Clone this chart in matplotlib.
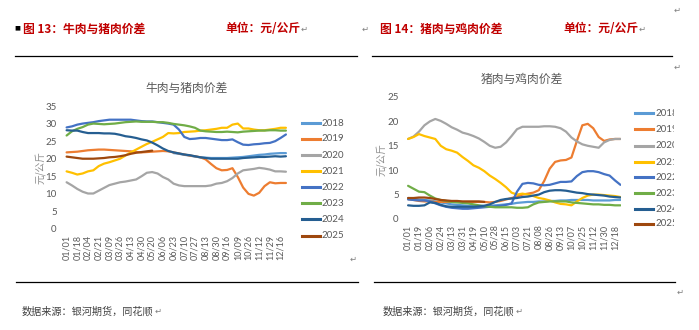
import matplotlib
matplotlib.use("Agg")
import matplotlib.pyplot as plt
from matplotlib.lines import Line2D
from matplotlib.text import Annotation
from matplotlib.transforms import Bbox
import numpy as np

W, H = 699, 330
CJK = ['Noto Sans CJK SC', 'DejaVu Sans']
NUM = ['Lato', 'Noto Sans CJK SC', 'DejaVu Sans']
plt.rcParams['font.family'] = CJK

years = ["2018", "2019", "2020", "2021", "2022", "2023", "2024", "2025"]
year_colors = ["#5B9BD5", "#ED7D31", "#A5A5A5", "#FFC000",
               "#4472C4", "#70AD47", "#255E91", "#9E480E"]

# ---- 牛肉与猪肉价差 (sampled every half tick interval) ----
beef_ticks = ["01/01", "01/18", "02/04", "02/21", "03/09", "03/26", "04/13",
              "04/30", "05/20", "06/06", "06/23", "07/10", "07/27", "08/13",
              "08/30", "09/16", "10/09", "10/26", "11/12", "11/29", "12/16"]
beef_2018 = [21.6, 21.4, 21.1, 20.9, 20.6, 20.4, 20.3, 20.2, 20.2, 20.2, 20.2,
             20.3, 20.4, 20.5, 20.7, 20.9, 21.1, 21.2, 21.4, 21.5, 21.6, 21.6]
beef_2018_start = 10
beef_2019 = [21.8, 21.9, 22.0, 22.2, 22.4, 22.5, 22.6, 22.6, 22.5, 22.4, 22.3,
             22.2, 22.1, 21.9, 21.8, 21.9, 22.0, 22.1, 22.2, 22.1, 21.8, 21.5,
             21.2, 20.9, 20.7, 20.4, 19.8, 18.5, 17.3, 16.7, 16.8, 17.3, 14.8,
             11.8, 10.0, 9.5, 10.3, 12.2, 13.3, 13.0, 13.1, 13.1]
beef_2020 = [13.3, 12.4, 11.4, 10.6, 10.1, 10.1, 10.9, 11.7, 12.5, 12.9, 13.3,
             13.5, 13.8, 14.1, 15.0, 16.0, 16.2, 15.8, 14.8, 14.1, 12.9, 12.4,
             12.2, 12.2, 12.2, 12.2, 12.2, 12.4, 12.9, 13.1, 13.6, 14.5, 15.8,
             16.7, 16.9, 17.1, 17.4, 17.2, 16.9, 16.4, 16.4, 16.3]
beef_2021 = [16.4, 16.0, 15.5, 15.8, 16.4, 16.7, 17.9, 18.6, 19.0, 19.5, 20.0,
             20.9, 21.8, 22.6, 23.4, 24.2, 24.8, 25.5, 26.2, 27.3, 27.2, 27.3,
             27.6, 27.7, 27.8, 28.0, 28.1, 28.3, 28.5, 28.8, 28.8, 29.7, 30.0,
             28.6, 28.6, 28.3, 28.1, 28.1, 28.3, 28.5, 28.8, 28.8]
beef_2022 = [28.9, 29.2, 29.7, 30.0, 30.2, 30.4, 30.7, 30.9, 31.1, 31.1, 31.1,
             31.1, 31.1, 30.9, 30.7, 30.6, 30.6, 30.4, 30.2, 30.0, 29.7, 28.3,
             26.2, 25.6, 25.7, 25.9, 25.9, 25.7, 25.5, 25.3, 25.3, 25.5, 24.7,
             24.0, 23.9, 24.1, 24.2, 24.4, 24.5, 25.0, 25.9, 26.9]
beef_2023 = [26.6, 27.8, 28.5, 29.0, 29.7, 30.0, 29.9, 29.8, 29.9, 30.0, 30.2,
             30.4, 30.5, 30.6, 30.5, 30.5, 30.5, 30.4, 30.4, 30.2, 29.9, 29.7,
             29.5, 29.2, 28.8, 28.0, 27.8, 27.7, 27.6, 27.6, 27.7, 27.6, 27.5,
             27.7, 27.8, 27.9, 28.0, 28.0, 28.1, 28.1, 28.0, 28.0]
beef_2024 = [28.1, 28.0, 28.0, 27.6, 27.3, 27.3, 27.3, 27.2, 27.2, 27.1, 26.8,
             26.4, 26.2, 25.9, 25.5, 25.2, 24.6, 23.8, 22.9, 22.2, 21.8, 21.5,
             21.2, 21.0, 20.7, 20.4, 20.2, 20.0, 20.0, 20.0, 20.0, 20.0, 20.0,
             20.2, 20.3, 20.4, 20.5, 20.5, 20.6, 20.7, 20.6, 20.7]
beef_2025 = [20.6, 20.4, 20.2, 20.0, 20.0, 20.0, 20.1, 20.2, 20.4, 20.5, 20.7,
             21.0, 21.4, 21.7, 21.9, 22.1, 22.3]

# ---- 猪肉与鸡肉价差 (sampled every half tick interval) ----
chick_ticks = ["01/01", "01/19", "02/06", "02/24", "03/13", "03/31", "04/19",
               "05/10", "05/28", "06/15", "07/03", "07/21", "08/08", "08/26",
               "09/13", "10/07", "10/25", "11/12", "11/30", "12/18"]
chick_2018 = [4.3, 4.2, 4.0, 3.9, 3.8, 3.6, 3.4, 3.2, 3.0, 2.9, 2.8, 2.7, 2.7,
              2.7, 2.7, 2.7, 2.8, 2.9, 3.0, 3.1, 3.3, 3.4, 3.5, 3.5, 3.6, 3.6,
              3.7, 3.7, 3.8, 3.8, 3.9, 3.9, 3.9, 3.9, 3.8, 3.8, 3.8, 3.8, 3.9, 3.9]
chick_2019 = [4.1, 3.9, 3.7, 3.6, 3.6, 3.5, 3.5, 3.5, 3.5, 3.5, 3.5, 3.5, 3.5,
              3.5, 3.5, 3.4, 3.5, 3.7, 4.0, 4.3, 4.6, 5.0, 5.2, 5.4, 5.9, 7.8,
              10.3, 11.7, 12.0, 12.1, 12.6, 16.0, 19.2, 19.5, 18.6, 16.8, 16.0,
              16.3, 16.4, 16.4]
chick_2020 = [16.4, 16.9, 17.9, 19.2, 20.0, 20.5, 20.1, 19.5, 18.8, 18.3, 17.7,
              17.4, 17.0, 16.5, 15.8, 15.0, 14.6, 14.8, 15.7, 17.0, 18.4, 18.9,
              18.9, 18.9, 18.9, 19.0, 19.0, 18.9, 18.6, 17.9, 16.7, 15.9, 15.3,
              15.0, 14.8, 14.6, 15.7, 16.2, 16.4, 16.4]
chick_2021 = [16.4, 16.8, 17.4, 17.0, 16.7, 16.4, 15.0, 14.3, 14.0, 13.6, 12.7,
              11.9, 11.0, 10.5, 9.8, 8.9, 8.2, 7.4, 6.5, 5.4, 5.0, 5.2, 5.0, 4.7,
              4.3, 4.1, 3.8, 3.4, 3.1, 3.0, 2.8, 3.6, 4.3, 4.8, 5.0, 5.0, 4.9,
              4.8, 4.7, 4.5]
chick_2022 = [4.0, 3.9, 3.8, 3.8, 3.6, 3.2, 2.8, 2.5, 2.3, 2.2, 2.1, 2.1, 2.2,
              2.3, 2.4, 2.5, 2.6, 2.7, 2.9, 3.2, 5.6, 7.2, 7.4, 7.3, 7.0, 6.9,
              7.0, 7.3, 7.6, 7.6, 7.7, 8.8, 9.6, 9.8, 9.8, 9.6, 9.2, 8.9, 7.9, 7.0]
chick_2023 = [6.8, 6.2, 5.6, 5.5, 4.8, 4.2, 3.9, 3.7, 3.5, 3.4, 3.3, 3.2, 3.0,
              2.8, 2.6, 2.5, 2.4, 2.4, 2.4, 2.4, 2.3, 2.3, 2.4, 3.0, 3.4, 3.5,
              3.6, 3.6, 3.6, 3.6, 3.4, 3.3, 3.2, 3.1, 3.0, 3.0, 2.9, 2.9, 2.8, 2.8]
chick_2024 = [2.8, 2.7, 2.7, 2.8, 3.4, 3.3, 2.9, 2.6, 2.5, 2.5, 2.5, 2.5, 2.5,
              2.6, 2.7, 3.0, 3.5, 3.9, 4.1, 4.2, 4.3, 4.5, 4.6, 4.8, 5.0, 5.5,
              5.8, 5.9, 5.9, 5.8, 5.6, 5.4, 5.3, 5.1, 5.0, 4.9, 4.8, 4.6, 4.5, 4.4]
chick_2025 = [4.3, 4.3, 4.4, 4.4, 4.3, 4.1, 3.9, 3.8, 3.7, 3.7, 3.6, 3.6, 3.6,
              3.6, 3.5]

beef_series = [beef_2018, beef_2019, beef_2020, beef_2021,
               beef_2022, beef_2023, beef_2024, beef_2025]
beef_starts = [beef_2018_start, 0, 0, 0, 0, 0, 0, 0]
chick_series = [chick_2018, chick_2019, chick_2020, chick_2021,
                chick_2022, chick_2023, chick_2024, chick_2025]
chick_starts = [0] * 8

GRAY = "#595959"
RED = "#C00000"
RET = "↵"


def fx(x):
    return x / W


def fy(y):
    return 1 - y / H


fig = plt.figure(figsize=(W / 100, H / 100), dpi=100)
fig.patch.set_facecolor("white")


def draw_chart(rect, series, starts, ticks, ylim, ystep, xlim):
    ax = fig.add_axes(rect)
    for vals, st, col in zip(series, starts, year_colors):
        x = st + np.arange(len(vals)) * 0.5
        ax.plot(x, vals, color=col, lw=1.6, solid_capstyle="round")
    ax.set_xlim(*xlim)
    ax.set_ylim(0, ylim)
    ax.set_yticks(np.arange(0, ylim + 0.1, ystep))
    ax.set_xticks(np.arange(len(ticks)))
    ax.set_xticklabels(ticks, rotation=90, fontsize=6.5, color=GRAY,
                       family=NUM)
    for lab in ax.get_yticklabels():
        lab.set_fontsize(7)
        lab.set_color(GRAY)
        lab.set_family(NUM)
    ax.tick_params(axis="both", length=0)
    ax.tick_params(axis="y", pad=6)
    ax.tick_params(axis="x", pad=4)
    for s in ax.spines.values():
        s.set_visible(False)
    ax.set_facecolor("none")
    return ax


axL = draw_chart([fx(65), fy(229), 222 / W, 123 / H], beef_series,
                 beef_starts, beef_ticks, 35, 5, (-0.15, 20.6))
axR = draw_chart([fx(407), fy(219), 214 / W, 122 / H], chick_series,
                 chick_starts, chick_ticks, 25, 5, (-0.1, 19.55))

# chart titles and axis labels
fig.text(fx(186), fy(88), "牛肉与猪肉价差", ha="center", va="center",
         fontsize=8.5, color=GRAY)
fig.text(fx(522), fy(79), "猪肉与鸡肉价差", ha="center", va="center",
         fontsize=8.5, color=GRAY)
fig.text(fx(40), fy(167), "元/公斤", ha="center", va="center", rotation=90,
         fontsize=7, color="#8C8C8C")
fig.text(fx(381), fy(160), "元/公斤", ha="center", va="center", rotation=90,
         fontsize=7, color="#8C8C8C")


def draw_legend(x0, ys, clip_x=None):
    for yr, y, col in zip(years, ys, year_colors):
        fig.add_artist(Line2D([fx(x0), fx(x0 + 18)], [fy(y), fy(y)],
                              color=col, lw=2.2))
        t = fig.text(fx(x0 + 20), fy(y), yr, ha="left", va="center",
                     fontsize=7, color=GRAY, family=NUM)
        if clip_x is not None:
            t.set_clip_box(Bbox([[0, 0], [clip_x, H]]))
            t.set_clip_on(True)


draw_legend(302, [123, 139, 155, 171, 187, 203, 219, 236])
draw_legend(635, [113, 129, 146, 162, 177, 193, 209, 224], clip_x=674)


def return_mark_after(t):
    """Paragraph mark placed right after a text artist."""
    fig.add_artist(Annotation(RET, xy=(1, 0.5), xycoords=t,
                              xytext=(0.5, 0), textcoords="offset points",
                              ha="left", va="center", fontsize=6,
                              color="#7F7F7F", family=['DejaVu Sans']))


def return_mark_at(x, y):
    fig.text(fx(x), fy(y), RET, ha="left", va="center", fontsize=6,
             color="#7F7F7F", family=['DejaVu Sans'])


# document headers
fig.text(fx(14), fy(28), "■", ha="left", va="center", fontsize=4.5,
         color="black", family=['DejaVu Sans'])
fig.text(fx(23), fy(29), "图 13：牛肉与猪肉价差", ha="left", va="center",
         fontsize=8.5, color=RED, fontweight="bold")
u1 = fig.text(fx(225), fy(29), "单位：元/公斤", ha="left", va="center",
              fontsize=8.5, color=RED, fontweight="bold")
return_mark_after(u1)
return_mark_at(362, 29)
fig.text(fx(380), fy(29), "图 14：猪肉与鸡肉价差", ha="left", va="center",
         fontsize=8.5, color=RED, fontweight="bold")
u2 = fig.text(fx(563), fy(29), "单位：元/公斤", ha="left", va="center",
              fontsize=8.5, color=RED, fontweight="bold")
return_mark_after(u2)
return_mark_at(674, 10)
return_mark_at(674, 67)
return_mark_at(350, 259)
return_mark_at(677, 292)

# rules above and below the charts
for (x0, x1, y) in [(15, 357, 56), (372, 672, 56), (16, 358, 282),
                    (374, 675, 282)]:
    fig.add_artist(Line2D([fx(x0), fx(x1)], [fy(y), fy(y)],
                          color="black", lw=0.9))

s1 = fig.text(fx(22), fy(311), "数据来源：银河期货，同花顺", ha="left",
              va="center", fontsize=7.3, color="#404040")
return_mark_after(s1)
s2 = fig.text(fx(383), fy(311), "数据来源：银河期货，同花顺", ha="left",
              va="center", fontsize=7.3, color="#404040")
return_mark_after(s2)

fig.savefig("out.png", dpi=100, facecolor="white")
